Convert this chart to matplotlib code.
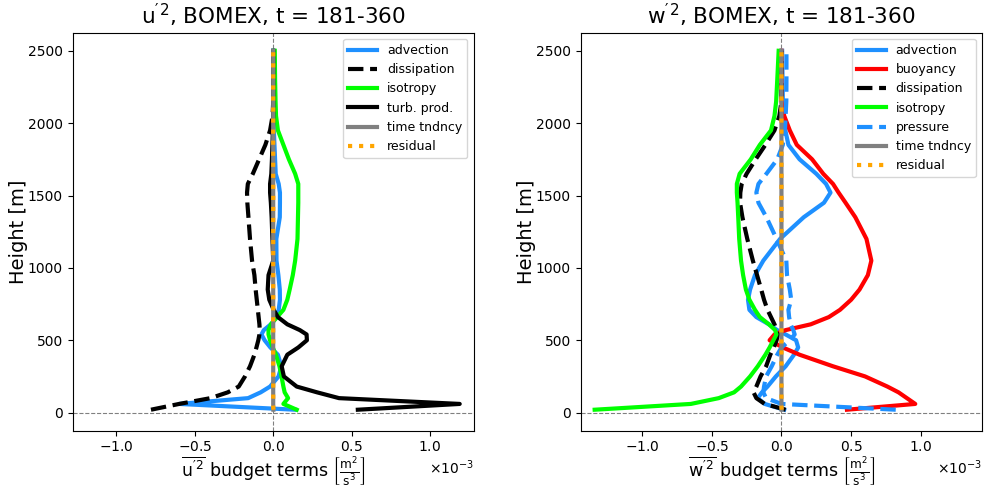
import numpy as np
import matplotlib
matplotlib.use('Agg')
import matplotlib.pyplot as plt
from matplotlib.ticker import MultipleLocator, ScalarFormatter

plt.rcParams['mathtext.default'] = 'regular'

###### DATA (budget terms in 1e-3 m^2/s^3) ##########
height = [20, 60, 100, 140, 180, 250, 320, 400, 450, 500, 540, 570, 610, 660,
          710, 780, 850, 950, 1050, 1200, 1350, 1450, 1520, 1580, 1650, 1750,
          1850, 1950, 2050, 2150, 2300, 2500]

# u'^2 budget
u_advection = [0.14, -0.60, -0.16, -0.08, -0.02, 0.034, 0.052, 0.03, -0.018, -0.055,
               -0.075, -0.06, -0.015, 0.022, 0.035, 0.043, 0.042, 0.033, 0.021, 0.02,
               0.042, 0.043, 0.043, 0.035, 0.016, 0.012, 0.008, 0.004, 0.001, 0.0, 0.0, 0.0]
u_dissipation = [-0.78, -0.60, -0.40, -0.29, -0.22, -0.18, -0.148, -0.12, -0.107, -0.095,
                 -0.088, -0.086, -0.088, -0.093, -0.098, -0.105, -0.112, -0.12, -0.135,
                 -0.148, -0.158, -0.165, -0.167, -0.162, -0.13, -0.09, -0.05, -0.02,
                 -0.004, 0.0, 0.0, 0.0]
u_isotropy = [0.15, 0.065, 0.095, 0.073, 0.065, 0.053, 0.04, 0.017, -0.003, -0.02,
              -0.03, -0.03, -0.015, 0.025, 0.065, 0.09, 0.105, 0.125, 0.14, 0.155,
              0.158, 0.16, 0.16, 0.16, 0.14, 0.10, 0.065, 0.03, 0.018, 0.015, 0.012, 0.01]
u_turb_prod = [0.54, 1.19, 0.42, 0.28, 0.15, 0.068, 0.054, 0.09, 0.16, 0.215,
               0.213, 0.17, 0.09, 0.03, 0.003, -0.025, -0.035, -0.03, 0.0, -0.005,
               -0.01, -0.015, -0.02, -0.02, -0.012, -0.008, -0.005, -0.002, 0.0, 0.0, 0.0, 0.0]
u_time_tndncy = [0.001, 0.0, 0.0, 0.0, 0.0, 0.0, 0.0, 0.0, 0.0, 0.0, 0.0, 0.0, 0.0, 0.0,
                 0.0, 0.0, 0.0, 0.0, 0.0, 0.0, 0.0, 0.0, 0.0, 0.0, 0.0, 0.0, 0.0, 0.0,
                 0.0, 0.0, 0.0, 0.0]
u_residual = [0.002, -0.002, 0.0, 0.0, 0.0, 0.0, 0.0, 0.0, 0.0, 0.0, 0.0, 0.0, 0.0, 0.0,
              0.0, 0.0, 0.0, 0.0, 0.0, 0.0, 0.0, 0.0, 0.0, 0.0, 0.0, 0.0, 0.0, 0.0,
              0.0, 0.0, 0.0, 0.0]

# w'^2 budget
w_advection = [0.02, -0.12, -0.17, -0.14, -0.10, -0.04, 0.03, 0.09, 0.12, 0.105,
               0.03, -0.03, -0.09, -0.18, -0.23, -0.24, -0.225, -0.19, -0.13, -0.01,
               0.16, 0.305, 0.352, 0.32, 0.25, 0.13, 0.05, 0.028, 0.018, 0.01, 0.008, 0.005]
w_buoyancy = [0.47, 0.96, 0.90, 0.84, 0.76, 0.60, 0.37, 0.13, 0.01, -0.085,
              -0.05, 0.03, 0.21, 0.34, 0.42, 0.50, 0.56, 0.62, 0.645, 0.61,
              0.53, 0.46, 0.41, 0.37, 0.30, 0.22, 0.11, 0.06, 0.02, 0.0, 0.0, 0.0]
w_dissipation = [0.03, -0.12, -0.18, -0.20, -0.18, -0.15, -0.11, -0.08, -0.055, -0.035,
                 -0.025, -0.035, -0.05, -0.075, -0.10, -0.125, -0.145, -0.175, -0.205,
                 -0.245, -0.28, -0.297, -0.295, -0.285, -0.25, -0.185, -0.115, -0.05,
                 -0.015, 0.0, 0.0, 0.0]
w_isotropy = [-1.34, -0.65, -0.45, -0.34, -0.29, -0.225, -0.17, -0.115, -0.085, -0.058,
              -0.036, -0.045, -0.09, -0.155, -0.19, -0.23, -0.255, -0.275, -0.29, -0.303,
              -0.31, -0.315, -0.32, -0.32, -0.30, -0.22, -0.155, -0.075, -0.05, -0.038,
              -0.03, -0.02]
w_pressure = [0.82, 0.0, -0.11, -0.13, -0.125, -0.11, -0.07, -0.03, 0.0, 0.06,
              0.095, 0.085, 0.065, 0.055, 0.05, 0.07, 0.06, 0.04, 0.035, -0.035,
              -0.108, -0.165, -0.18, -0.165, -0.108, -0.03, 0.01, 0.025, 0.03, 0.035,
              0.036, 0.036]
w_time_tndncy = [0.001, 0.0, 0.0, 0.0, 0.0, 0.0, 0.0, 0.0, 0.0, 0.0, 0.0, 0.0, 0.0, 0.0,
                 0.0, 0.0, 0.0, 0.0, 0.0, 0.0, 0.0, 0.0, 0.0, 0.0, 0.0, 0.0, 0.0, 0.0,
                 0.0, 0.0, 0.0, 0.0]
w_residual = [0.002, -0.002, 0.0, 0.0, 0.0, 0.0, 0.0, 0.0, 0.0, 0.0, 0.0, 0.0, 0.0, 0.0,
              0.0, 0.0, 0.0, 0.0, 0.0, 0.0, 0.0, 0.0, 0.0, 0.0, 0.0, 0.0, 0.0, 0.0,
              0.0, 0.0, 0.0, 0.0]
#####################################################

SCALE = 1e-3
LW = 3

styles = {
    'advection':   dict(color='dodgerblue', ls='-'),
    'buoyancy':    dict(color='red', ls='-'),
    'dissipation': dict(color='black', ls='--'),
    'isotropy':    dict(color='lime', ls='-'),
    'turb. prod.': dict(color='black', ls='-'),
    'pressure':    dict(color='dodgerblue', ls='--'),
    'time tndncy': dict(color='gray', ls='-'),
    'residual':    dict(color='orange', ls=':'),
}

u_terms = [('advection', u_advection), ('dissipation', u_dissipation),
           ('isotropy', u_isotropy), ('turb. prod.', u_turb_prod),
           ('time tndncy', u_time_tndncy), ('residual', u_residual)]
w_terms = [('advection', w_advection), ('buoyancy', w_buoyancy),
           ('dissipation', w_dissipation), ('isotropy', w_isotropy),
           ('pressure', w_pressure), ('time tndncy', w_time_tndncy),
           ('residual', w_residual)]


def budget_plot(ax, terms, var):
    z = np.array(height)
    vmax = 0.0
    for name, vals in terms:
        v = np.array(vals) * SCALE
        vmax = max(vmax, np.abs(v).max())
        ax.plot(v, z, label=name, lw=LW, **styles[name])
    ax.axvline(0, color='gray', ls='--', lw=0.8, zorder=0)
    ax.axhline(0, color='gray', ls='--', lw=0.8, zorder=0)
    ax.set_xlim(-1.075 * vmax, 1.075 * vmax)
    ax.set_ylim(-125, 2625)
    ax.xaxis.set_major_locator(MultipleLocator(0.5e-3))
    fmt = ScalarFormatter(useMathText=True)
    fmt.set_powerlimits((0, 0))
    ax.xaxis.set_major_formatter(fmt)
    ax.xaxis.get_offset_text().set_fontsize(10)
    ax.tick_params(labelsize=10)
    ax.set_ylabel('Height [m]', fontsize=14, labelpad=0)
    ax.set_xlabel(r"$\overline{%s'^2}$ budget terms $\left[\frac{m^2}{s^3}\right]$" % var,
                  fontsize=12.5, labelpad=0)
    ax.set_title(r"$%s'^2$, BOMEX, t = 181-360" % var, fontsize=15.5)
    ax.legend(loc='upper right', fontsize=9, handlelength=2.3)


fig = plt.figure(figsize=(9.84, 4.87), dpi=100)
ax1 = fig.add_axes([0.0739, 0.1156, 0.4075, 0.8173])
ax2 = fig.add_axes([0.5901, 0.1156, 0.4081, 0.8173])

budget_plot(ax1, u_terms, 'u')
budget_plot(ax2, w_terms, 'w')

fig.savefig('out.png', dpi=100)
